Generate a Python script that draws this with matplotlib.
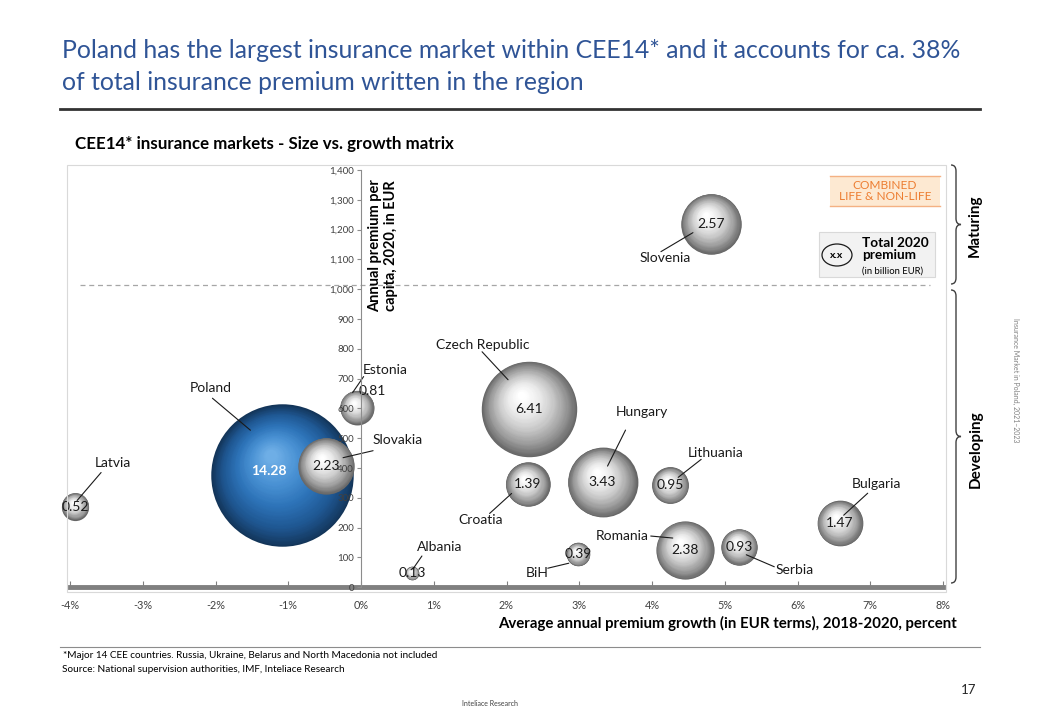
import numpy as np
import matplotlib
matplotlib.use("Agg")
import matplotlib.pyplot as plt
from matplotlib.colors import LinearSegmentedColormap
from matplotlib.patches import Rectangle, Ellipse, PathPatch
from matplotlib.path import Path
from matplotlib.transforms import offset_copy

plt.rcParams['font.family'] = ['Lato', 'DejaVu Sans']

# data
countries = ['Latvia', 'Poland', 'Slovakia', 'Estonia', 'Albania', 'Czech Republic', 'Croatia',
             'Hungary', 'BiH', 'Lithuania', 'Romania', 'Serbia', 'Bulgaria', 'Slovenia']
growth = [-3.93, -1.08, -0.48, -0.06, 0.70, 2.31, 2.29, 3.32, 2.98, 4.25, 4.45, 5.20, 6.58, 4.81]
premium_per_capita = [271, 376, 408, 603, 48, 599, 345, 353, 111, 342, 125, 136, 215, 1220]
total_premium = [0.52, 14.28, 2.23, 0.81, 0.13, 6.41, 1.39, 3.43, 0.39, 0.95, 2.38, 0.93, 1.47, 2.57]

x_ticks = [-4, -3, -2, -1, 0, 1, 2, 3, 4, 5, 6, 7, 8]
y_ticks = list(range(0, 1401, 100))

# label layout: text, leader start, leader end - offsets from bubble centre in px (x right, y down)
label_pos = {
    'Latvia': ((38, -44), (26, -34), (2, -6)),
    'Poland': ((-72, -87), (-70, -77), (-32, -45)),
    'Slovakia': ((72, -26), (47, -15), (17, -8)),
    'Estonia': ((29, -38), (7, -31), (-4, -15)),
    'Albania': ((28, -26), (10, -17), (1, -4)),
    'Czech Republic': ((-46, -64), (-47, -57), (-21, -29)),
    'Croatia': ((-47, 36), (-38, 29), (-16, 9)),
    'Hungary': ((39, -70), (23, -52), (5, -16)),
    'BiH': ((-41, 19), (-30, 14), (-9, 9)),
    'Lithuania': ((45, -32), (31, -26), (8, -8)),
    'Romania': ((-63, -14), (-34, -14), (-12, -12)),
    'Serbia': ((55, 23), (35, 20), (7, 8)),
    'Bulgaria': ((37, -39), (28, -30), (4, -8)),
    'Slovenia': ((-46, 34), (-50, 28), (-18, 9)),
}
value_shift = {'Estonia': (16, -17), 'Poland': (-14, -4)}

W, H = 1040, 720
PT = 0.72  # points per pixel at dpi 100


def fx(px):
    return px / W


def fy(py):
    return 1 - py / H


fig = plt.figure(figsize=(10.4, 7.2), dpi=100)

# title
fig.text(fx(62), fy(50), 'Poland has the largest insurance market within CEE14* and it accounts for ca. 38%',
         color='#2f5496', fontsize=17.8, va='center', ha='left')
fig.text(fx(62), fy(82), 'of total insurance premium written in the region',
         color='#2f5496', fontsize=17.8, va='center', ha='left')
fig.add_artist(plt.Line2D([fx(60), fx(980)], [fy(109), fy(109)], color='#333333', lw=2))
fig.text(fx(75), fy(144), 'CEE14* insurance markets - Size vs. growth matrix',
         fontsize=12.2, fontweight='bold', va='center', ha='left')

# plot frame
fig.add_artist(Rectangle((fx(67), fy(592)), fx(946) - fx(67), fy(165) - fy(592),
                         transform=fig.transFigure, fill=False, ec='#d9d9d9', lw=0.8))

ax = fig.add_axes([fx(70), fy(587.3), (943 - 70) / W, (587.3 - 170) / H])
ax.set_xlim(-4, 8)
ax.set_ylim(0, 1400)
ax.patch.set_alpha(0)
for s in ['top', 'right']:
    ax.spines[s].set_visible(False)
ax.spines['left'].set_position(('data', 0))
ax.spines['left'].set_color('#8c8c8c')
ax.spines['bottom'].set_color('#808080')
ax.spines['bottom'].set_linewidth(3.5)
ax.set_xticks(x_ticks)
ax.set_xticklabels([f'{v}%' for v in x_ticks])
ax.set_yticks(y_ticks)
ax.set_yticklabels([f'{v:,}' for v in y_ticks])
ax.tick_params(axis='x', direction='in', length=4, color='#808080', labelsize=7.8,
               labelcolor='#404040', pad=9)
ax.tick_params(axis='y', direction='out', length=3, color='#8c8c8c', labelsize=7,
               labelcolor='#404040', pad=2)
ax.yaxis.set_zorder(9)
ax.spines['left'].set_zorder(9)

ax.axhline(1015, xmin=0.011, xmax=0.985, color='#a6a6a6', lw=0.9, ls=(0, (4, 3)))

gray_cmap = LinearSegmentedColormap.from_list('g', ['#666666', '#9a9a9a', '#c9c9c9', '#ececec', '#ffffff'])
blue_cmap = LinearSegmentedColormap.from_list('b', ['#133559', '#1f5792', '#2d73b8', '#4a92d4', '#6eaee6'])

K = 37.7  # bubble diameter in px per sqrt(premium)
n_layers = 60
for name, gx, gy, tp in zip(countries, growth, premium_per_capita, total_premium):
    d = K * np.sqrt(tp)
    cmap = blue_cmap if name == 'Poland' else gray_cmap
    for i in range(n_layers):
        t = i / (n_layers - 1)
        dd = d * (1 - 0.92 * t)
        ox = -0.08 * d * t * PT
        oy = 0.14 * d * t * PT
        tr = offset_copy(ax.transData, fig=fig, x=ox, y=oy, units='points')
        ax.scatter([gx], [gy], s=(dd * PT) ** 2, color=cmap(t ** 0.9), lw=0,
                   transform=tr, clip_on=False, zorder=3)

    (tx, ty), (ax_, ay_), (bx_, by_) = label_pos[name]
    ax.annotate(name, (gx, gy), xytext=(tx * PT, -ty * PT), textcoords='offset points',
                ha='center', va='center', fontsize=10, color='#1a1a1a', zorder=6)
    tr_a = offset_copy(ax.transData, fig=fig, x=ax_ * PT, y=-ay_ * PT, units='points')
    tr_b = offset_copy(ax.transData, fig=fig, x=bx_ * PT, y=-by_ * PT, units='points')
    ax.annotate('', xy=(gx, gy), xycoords=tr_b, xytext=(gx, gy), textcoords=tr_a,
                arrowprops=dict(arrowstyle='-', color='#1a1a1a', lw=0.8, shrinkA=0, shrinkB=0),
                zorder=5, annotation_clip=False)
    vx, vy = value_shift.get(name, (0, 0))
    if name == 'Poland':
        ax.annotate(f'{tp:.2f}', (gx, gy), xytext=(vx * PT, -vy * PT), textcoords='offset points',
                    ha='center', va='center', fontsize=10, color='white', fontweight='bold', zorder=7)
    else:
        ax.annotate(f'{tp:.2f}', (gx, gy), xytext=(vx * PT, -vy * PT), textcoords='offset points',
                    ha='center', va='center', fontsize=10, color='#1a1a1a', zorder=7)

# axis titles
fig.text(fx(383), fy(246), 'Annual premium per\ncapita, 2020, in EUR', rotation=90,
         fontsize=10.5, fontweight='bold', ha='center', va='center', linespacing=1.1)
fig.text(fx(957), fy(623), 'Average annual premium growth (in EUR terms), 2018-2020, percent',
         fontsize=10.8, fontweight='bold', ha='right', va='center')

# legend boxes
fig.add_artist(Rectangle((fx(830), fy(206)), fx(940) - fx(830), fy(176) - fy(206),
                         transform=fig.transFigure, fc='#fde9d2', ec='none'))
for yy in (176, 206):
    fig.add_artist(plt.Line2D([fx(830), fx(940)], [fy(yy), fy(yy)], color='#f4b183', lw=1))
fig.text(fx(885), fy(191), 'COMBINED\nLIFE & NON-LIFE', color='#ed7d31', fontsize=8.6,
         ha='center', va='center', linespacing=1.1)
fig.add_artist(Rectangle((fx(819), fy(277)), fx(935) - fx(819), fy(232) - fy(277),
                         transform=fig.transFigure, fc='#f2f2f2', ec='#d9d9d9', lw=0.8))
fig.add_artist(Ellipse((fx(837), fy(255)), 30 / W, 22 / H, transform=fig.transFigure,
                       fc='none', ec='#1a1a1a', lw=0.9))
fig.text(fx(837), fy(255), 'x.x', fontsize=7.5, fontweight='bold', ha='center', va='center')
fig.text(fx(862), fy(249), 'Total 2020\npremium', fontsize=9.8, fontweight='bold',
         ha='left', va='center', linespacing=1.05)
fig.text(fx(862), fy(271), '(in billion EUR)', fontsize=6.8, ha='left', va='center')


def brace(x0, yt, yb, w=10, r=6):
    ym = (yt + yb) / 2
    xm = x0 + w / 2
    pts = [(x0, yt), (xm, yt), (xm, yt + r), (xm, ym - r), (xm, ym), (x0 + w, ym),
           (xm, ym), (xm, ym + r), (xm, yb - r), (xm, yb), (x0, yb)]
    codes = [Path.MOVETO, Path.CURVE3, Path.CURVE3, Path.LINETO, Path.CURVE3, Path.CURVE3,
             Path.CURVE3, Path.CURVE3, Path.LINETO, Path.CURVE3, Path.CURVE3]
    verts = [(fx(px), fy(py)) for px, py in pts]
    fig.add_artist(PathPatch(Path(verts, codes), transform=fig.transFigure, fc='none',
                             ec='#404040', lw=1))


brace(951, 165, 284)
brace(951, 290, 583)
fig.text(fx(975), fy(226), 'Maturing', rotation=90, fontsize=11, fontweight='bold',
         ha='center', va='center')
fig.text(fx(976), fy(449), 'Developing', rotation=90, fontsize=11, fontweight='bold',
         ha='center', va='center')
fig.text(fx(1016), fy(380), 'Insurance Market in Poland, 2021\u20132023', rotation=-90,
         fontsize=5, color='#808080', ha='center', va='center')

# footer
fig.add_artist(plt.Line2D([fx(60), fx(980)], [fy(647), fy(647)], color='#8c8c8c', lw=0.8))
fig.text(fx(63), fy(656), '*Major 14 CEE countries. Russia, Ukraine, Belarus and North Macedonia not included',
         fontsize=7.2, ha='left', va='center')
fig.text(fx(62), fy(669), 'Source: National supervision authorities, IMF, Inteliace Research',
         fontsize=7.2, ha='left', va='center')
fig.text(fx(976), fy(690), '17', fontsize=9.5, ha='right', va='center', color='#262626')
fig.text(fx(490), fy(703), 'Inteliace Research', fontsize=5, ha='center', va='center', color='#404040')

fig.savefig('out.png', dpi=100)
